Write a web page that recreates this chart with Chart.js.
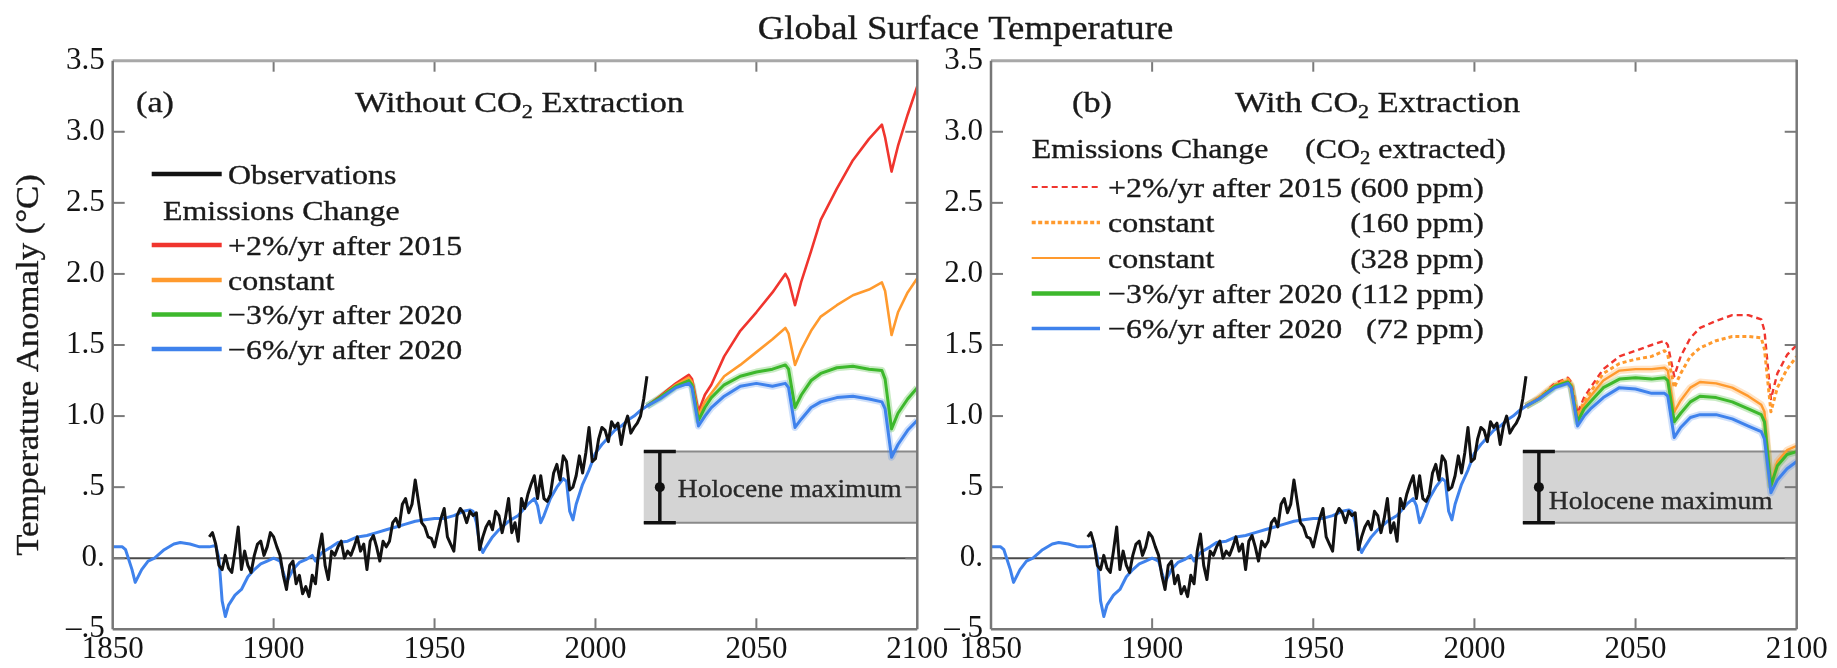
<!DOCTYPE html>
<html>
<head>
<meta charset="utf-8">
<title>Global Surface Temperature</title>
<script src="https://cdn.jsdelivr.net/npm/chart.js@4.4.0/dist/chart.umd.min.js"></script>
<style>
  html, body { margin: 0; padding: 0; background: #fff; }
  #wrap { position: relative; width: 1837px; height: 668px; overflow: hidden; }
  #wrap canvas { position: absolute; left: 0; top: 0; }
</style>
</head>
<body>
<div id="wrap">
  <canvas id="panelA" width="1837" height="668"></canvas>
  <canvas id="panelB" width="1837" height="668"></canvas>
</div>
<script>
// ----- Axes -----
const xTicks = [1850, 1900, 1950, 2000, 2050, 2100];
const yTicks = [-0.5, 0, 0.5, 1, 1.5, 2, 2.5, 3, 3.5];
const yTickLabels = ["\u2013.5", "0.", ".5", "1.0", "1.5", "2.0", "2.5", "3.0", "3.5"];

// ----- Observations (annual, from 1880) -----
const obsFirstYear = 1880;
const obsTemp = [
  0.15, 0.18, 0.10, -0.05, -0.08, 0.02, -0.07, -0.10, 0.05, 0.22,
  -0.08, 0.05, -0.05, -0.10, 0.02, 0.10, 0.12, 0.02, 0.08, 0.18,
  0.15, 0.08, 0.02, -0.12, -0.22, -0.05, -0.02, -0.18, -0.12, -0.25,
  -0.20, -0.27, -0.12, -0.18, 0.05, 0.17, -0.05, -0.15, 0.05, 0.02,
  0.08, 0.12, 0.00, 0.05, 0.02, 0.08, 0.15, 0.05, 0.10, -0.08,
  0.12, 0.16, 0.08, -0.02, 0.12, 0.08, 0.12, 0.25, 0.28, 0.22,
  0.38, 0.42, 0.32, 0.38, 0.55, 0.40, 0.25, 0.22, 0.15, 0.14,
  0.08, 0.18, 0.28, 0.35, 0.15, 0.10, 0.05, 0.30, 0.35, 0.32,
  0.25, 0.33, 0.30, 0.32, 0.06, 0.15, 0.22, 0.26, 0.20, 0.33,
  0.30, 0.18, 0.28, 0.42, 0.18, 0.25, 0.12, 0.42, 0.35, 0.45,
  0.52, 0.58, 0.42, 0.58, 0.42, 0.40, 0.45, 0.60, 0.66, 0.55,
  0.72, 0.68, 0.48, 0.50, 0.58, 0.72, 0.60, 0.74, 0.92, 0.68,
  0.70, 0.84, 0.92, 0.90, 0.82, 0.96, 0.92, 0.95, 0.80, 0.93,
  1.00, 0.88, 0.92, 0.95, 1.00, 1.12, 1.28
];

// ----- Model, historical period -----
const modelYears = [
  1850, 1853, 1854, 1856, 1857, 1859, 1861, 1863, 1866, 1869, 1871, 1874, 1877, 1880,
  1882, 1883, 1884, 1885, 1886, 1888, 1890, 1892, 1894, 1896, 1898, 1900, 1902, 1903,
  1904, 1906, 1908, 1910, 1912, 1913, 1915, 1918, 1920, 1923, 1926, 1929, 1932, 1935,
  1938, 1941, 1944, 1947, 1950, 1953, 1956, 1959, 1961, 1962, 1963, 1964, 1965, 1966,
  1968, 1970, 1973, 1976, 1979, 1981, 1982, 1983, 1984, 1986, 1988, 1990, 1991, 1992,
  1993, 1994, 1996, 1998, 2000, 2002, 2004, 2006, 2008, 2010, 2012, 2014, 2016
];
const modelTemp = [
  0.08, 0.08, 0.06, -0.08, -0.17, -0.08, -0.02, 0.00, 0.06, 0.10, 0.11, 0.10, 0.08, 0.08,
  0.09, 0.00, -0.30, -0.41, -0.33, -0.26, -0.22, -0.13, -0.08, -0.04, -0.02, 0.00, -0.02, -0.10,
  -0.17, -0.08, -0.03, -0.01, 0.02, -0.02, 0.04, 0.08, 0.11, 0.12, 0.15, 0.16, 0.18, 0.20,
  0.22, 0.24, 0.26, 0.27, 0.28, 0.28, 0.30, 0.33, 0.34, 0.33, 0.25, 0.10, 0.04, 0.08,
  0.15, 0.20, 0.26, 0.30, 0.38, 0.42, 0.37, 0.25, 0.30, 0.42, 0.50, 0.56, 0.54, 0.33,
  0.27, 0.38, 0.52, 0.62, 0.74, 0.80, 0.85, 0.90, 0.93, 0.97, 1.00, 1.04, 1.07
];

// ----- Scenarios after 2016 -----
const futureYears = [
  2016, 2020, 2025, 2029, 2030, 2032, 2034, 2036, 2040, 2045, 2050, 2055, 2059, 2060,
  2062, 2064, 2067, 2070, 2075, 2080, 2085, 2089, 2090, 2092, 2094, 2097, 2100
];
// (a) without CO2 extraction
const aRed = [
  1.07, 1.14, 1.23, 1.29, 1.26, 1.03, 1.15, 1.22, 1.42, 1.60, 1.73, 1.87, 2.00, 1.96,
  1.78, 1.95, 2.16, 2.38, 2.60, 2.80, 2.95, 3.05, 2.96, 2.72, 2.90, 3.12, 3.32
];
const aOrange = [
  1.07, 1.13, 1.22, 1.27, 1.24, 1.00, 1.10, 1.16, 1.28, 1.36, 1.45, 1.54, 1.62, 1.58,
  1.36, 1.47, 1.60, 1.70, 1.78, 1.85, 1.89, 1.94, 1.88, 1.57, 1.73, 1.87, 1.97
];
const aGreen = [
  1.07, 1.13, 1.21, 1.25, 1.22, 0.97, 1.06, 1.13, 1.22, 1.28, 1.31, 1.33, 1.36, 1.33,
  1.06, 1.15, 1.25, 1.30, 1.34, 1.35, 1.33, 1.32, 1.26, 0.91, 1.02, 1.12, 1.20
];
const aBlue = [
  1.07, 1.12, 1.20, 1.23, 1.20, 0.93, 1.00, 1.06, 1.14, 1.21, 1.23, 1.21, 1.23, 1.20,
  0.92, 0.98, 1.06, 1.10, 1.13, 1.14, 1.12, 1.10, 1.05, 0.71, 0.80, 0.90, 0.97
];
// (b) with CO2 extraction
const bRedDash = [
  1.07, 1.13, 1.23, 1.27, 1.24, 1.02, 1.13, 1.20, 1.33, 1.42, 1.46, 1.50, 1.53, 1.50,
  1.28, 1.42, 1.55, 1.62, 1.67, 1.71, 1.71, 1.68, 1.60, 1.12, 1.30, 1.43, 1.50
];
const bOrangeDot = [
  1.07, 1.13, 1.22, 1.26, 1.23, 1.00, 1.10, 1.17, 1.30, 1.37, 1.40, 1.42, 1.46, 1.43,
  1.20, 1.30, 1.42, 1.48, 1.53, 1.56, 1.56, 1.55, 1.47, 1.03, 1.20, 1.33, 1.42
];
const bOrange = [
  1.07, 1.13, 1.22, 1.25, 1.22, 0.98, 1.08, 1.14, 1.25, 1.32, 1.33, 1.33, 1.34, 1.32,
  1.03, 1.11, 1.20, 1.24, 1.23, 1.20, 1.14, 1.08, 1.03, 0.52, 0.68, 0.76, 0.79
];
const bGreen = [
  1.07, 1.12, 1.21, 1.24, 1.21, 0.96, 1.05, 1.10, 1.20, 1.26, 1.27, 1.26, 1.27, 1.25,
  0.96, 1.02, 1.10, 1.14, 1.13, 1.10, 1.05, 1.01, 0.96, 0.51, 0.65, 0.73, 0.75
];
const bBlue = [
  1.07, 1.12, 1.20, 1.23, 1.20, 0.93, 1.00, 1.05, 1.13, 1.20, 1.19, 1.16, 1.16, 1.14,
  0.85, 0.92, 0.99, 1.01, 1.01, 0.98, 0.93, 0.89, 0.84, 0.46, 0.55, 0.63, 0.68
];

// Holocene maximum band and its error bar
const holoceneYears = [2015, 2100];
const holoceneBand = [0.25, 0.75];
const holoceneMark = [2020, 0.5];

// ----- Styles -----
const FONT = "'Liberation Serif', 'Times New Roman', serif";
const C = { black: "#121212", red: "#f0352e", orange: "#ff9a2e", green: "#3db82c", blue: "#3f82ec" };
const HALO = { orange: "rgba(255,154,46,0.28)", green: "rgba(61,184,44,0.28)", blue: "rgba(63,130,236,0.25)" };

function pts(years, vals) { return years.map((yr, i) => ({ x: yr, y: vals[i] })); }
const obsPoints = obsTemp.map((v, i) => ({ x: obsFirstYear + i, y: v }));
const modelPoints = pts(modelYears, modelTemp);

// text with optional subscript segments (["2"]), horizontal stretch and rotation
function drawText(ctx, segs, x, y, size, o = {}) {
  if (typeof segs === "string") segs = [segs];
  ctx.save();
  ctx.translate(x, y);
  if (o.rotate) ctx.rotate(o.rotate);
  ctx.scale(o.sx || 1, 1);
  ctx.fillStyle = o.color || "#1a1a1a";
  ctx.strokeStyle = o.color || "#1a1a1a";
  ctx.lineWidth = 0.35;
  ctx.textBaseline = "alphabetic";
  ctx.textAlign = "left";
  const fontOf = s => (Array.isArray(s) ? size * 0.65 : size) + "px " + FONT;
  const widths = segs.map(s => { ctx.font = fontOf(s); return ctx.measureText(Array.isArray(s) ? s[0] : s).width; });
  const total = widths.reduce((a, b) => a + b, 0);
  let cx = o.align === "center" ? -total / 2 : o.align === "right" ? -total : 0;
  segs.forEach((s, i) => {
    const t = Array.isArray(s) ? s[0] : s, dy = Array.isArray(s) ? size * 0.22 : 0;
    ctx.font = fontOf(s);
    ctx.fillText(t, cx, dy);
    ctx.strokeText(t, cx, dy);
    cx += widths[i];
  });
  ctx.restore();
}

function line(ctx, x1, y1, x2, y2) {
  ctx.beginPath(); ctx.moveTo(x1, y1); ctx.lineTo(x2, y2); ctx.stroke();
}

// ----- Plugin: band, zero line, frame, labels, legend -----
const decor = {
  id: "decor",
  beforeDatasetsDraw(chart, args, opts) {
    const { ctx, chartArea: a, scales: { x, y } } = chart;
    ctx.save();
    // zero line
    ctx.strokeStyle = "#4a4a4a"; ctx.lineWidth = 2.2;
    line(ctx, a.left, y.getPixelForValue(0), a.right, y.getPixelForValue(0));
    // Holocene band
    const x0 = x.getPixelForValue(holoceneYears[0]), x1 = x.getPixelForValue(holoceneYears[1]);
    const yt = y.getPixelForValue(holoceneBand[1]), yb = y.getPixelForValue(holoceneBand[0]);
    ctx.fillStyle = "#d4d4d4";
    ctx.fillRect(x0, yt, x1 - x0, yb - yt);
    ctx.strokeStyle = "#8a8a8a"; ctx.lineWidth = 2;
    line(ctx, x0, yt, x1, yt);
    line(ctx, x0, yb, x1, yb);
    // error bar
    const mx = x.getPixelForValue(holoceneMark[0]), my = y.getPixelForValue(holoceneMark[1]);
    ctx.strokeStyle = "#111"; ctx.lineWidth = 3.5;
    line(ctx, mx, yt, mx, yb);
    line(ctx, mx - 16, yt, mx + 16, yt);
    line(ctx, mx - 16, yb, mx + 16, yb);
    ctx.fillStyle = "#111";
    ctx.beginPath(); ctx.arc(mx, my, 5, 0, Math.PI * 2); ctx.fill();
    ctx.restore();
    drawText(ctx, "Holocene maximum", x.getPixelForValue(opts.holoText[0]), opts.holoText[1], 25, { sx: 1.1, color: "#2a2a2a" });
  },
  afterDraw(chart, args, opts) {
    const { ctx, chartArea: a, scales: { x, y } } = chart;
    ctx.save();
    // inward ticks
    ctx.strokeStyle = "#7a7a7a"; ctx.lineWidth = 2;
    xTicks.slice(1, -1).forEach(v => {
      const px = x.getPixelForValue(v);
      line(ctx, px, a.bottom, px, a.bottom - 11);
      line(ctx, px, a.top, px, a.top + 11);
    });
    yTicks.slice(1, -1).forEach(v => {
      const py = y.getPixelForValue(v);
      line(ctx, a.left, py, a.left + 12, py);
      line(ctx, a.right, py, a.right - 12, py);
    });
    // frame
    ctx.strokeStyle = "#a8a8a8"; ctx.lineWidth = 3;
    line(ctx, a.left, a.top, a.right, a.top);
    ctx.strokeStyle = "#777"; ctx.lineWidth = 2.5;
    line(ctx, a.left, a.top, a.left, a.bottom);
    line(ctx, a.right, a.top - 1, a.right, a.bottom);
    line(ctx, a.left, a.bottom, a.right, a.bottom);
    ctx.restore();

    // panel headings
    drawText(ctx, opts.tag[0], opts.tag[1], 111.5, 30, { sx: 1.14 });
    drawText(ctx, opts.heading[0], opts.heading[1], 111.5, 30, { sx: 1.14 });
    if (opts.title) {
      drawText(ctx, "Global Surface Temperature", 965.5, 38.5, 34, { sx: 1.08, align: "center" });
      drawText(ctx, "Temperature Anomaly (\u00B0C)", 38, 365, 31, { sx: 1.12, align: "center", rotate: -Math.PI / 2 });
    }

    // legend
    const L = opts.legend;
    L.headers.forEach(h => drawText(ctx, h[0], h[1], h[2], 28, { sx: 1.14 }));
    L.rows.forEach(r => {
      ctx.save();
      ctx.strokeStyle = r.color; ctx.lineWidth = r.width;
      ctx.setLineDash(r.dash || []);
      line(ctx, L.lineX[0], r.y, L.lineX[1], r.y);
      ctx.restore();
      drawText(ctx, r.label, L.textX, r.y + 9.5, 28, { sx: 1.14 });
      if (r.ppm) drawText(ctx, r.ppm, L.ppmX, r.y + 9.5, 28, { sx: 1.14, align: "right" });
    });
  }
};

// ----- Panels -----
function ds(data, color, width, dash) {
  return { data, borderColor: color, borderWidth: width, borderDash: dash || [], pointRadius: 0, tension: 0, fill: false, borderJoinStyle: "round" };
}

function buildPanel(canvasId, padLeft, axisWidth, padRight, datasets, decorOpts) {
  return new Chart(document.getElementById(canvasId), {
    type: "line",
    data: { datasets },
    options: {
      responsive: false,
      animation: false,
      events: [],
      layout: { padding: { left: padLeft, right: padRight, top: 60.7, bottom: 0 } },
      plugins: { legend: { display: false }, tooltip: { enabled: false }, decor: decorOpts },
      scales: {
        x: {
          type: "linear", min: 1850, max: 2100,
          afterBuildTicks: s => { s.ticks = xTicks.map(v => ({ value: v })); },
          afterFit: s => { s.height = 38.7; },
          grid: { display: false, drawTicks: false },
          border: { display: false },
          ticks: { autoSkip: false, maxRotation: 0, padding: 2, color: "#141414", font: { family: FONT, size: 31 }, callback: v => String(v) }
        },
        y: {
          type: "linear", min: -0.5, max: 3.5,
          afterBuildTicks: s => { s.ticks = yTicks.map(v => ({ value: v })); },
          afterFit: s => { s.width = axisWidth; },
          grid: { display: false, drawTicks: false },
          border: { display: false },
          ticks: { autoSkip: false, padding: 8, color: "#141414", font: { family: FONT, size: 31 }, callback: v => yTickLabels[yTicks.indexOf(v)] }
        }
      }
    },
    plugins: [decor]
  });
}

// (a) Without CO2 extraction
buildPanel("panelA", 0, 112.7, 1837 - 917.3, [
  ds(obsPoints, C.black, 3),
  ds(modelPoints, C.blue, 3),
  ds(pts(futureYears, aBlue), C.blue, 3),
  ds(pts(futureYears, aGreen), C.green, 3),
  ds(pts(futureYears, aOrange), C.orange, 2.6),
  ds(pts(futureYears, aRed), C.red, 2.6),
  ds(pts(futureYears, aGreen), HALO.green, 7),
  ds(pts(futureYears, aBlue), HALO.blue, 7)
], {
  title: true,
  tag: ["(a)", 136],
  heading: [["Without CO", ["2"], " Extraction"], 355],
  holoText: [2025.6, 497],
  legend: {
    lineX: [151.7, 221.7], textX: 228,
    headers: [["Emissions Change", 163, 220]],
    rows: [
      { label: "Observations", color: C.black, width: 4.5, y: 174 },
      { label: "+2%/yr after 2015", color: C.red, width: 4.5, y: 245 },
      { label: "constant", color: C.orange, width: 4.5, y: 280 },
      { label: "\u22123%/yr after 2020", color: C.green, width: 4.5, y: 314.5 },
      { label: "\u22126%/yr after 2020", color: C.blue, width: 4.5, y: 349 }
    ]
  }
});

// (b) With CO2 extraction
buildPanel("panelB", 930, 61, 1837 - 1796.7, [
  ds(obsPoints, C.black, 3),
  ds(modelPoints, C.blue, 3),
  ds(pts(futureYears, bBlue), C.blue, 3),
  ds(pts(futureYears, bGreen), C.green, 3),
  ds(pts(futureYears, bOrange), C.orange, 2.4),
  ds(pts(futureYears, bOrangeDot), C.orange, 3, [4, 3]),
  ds(pts(futureYears, bRedDash), C.red, 2.4, [6, 4]),
  ds(pts(futureYears, bOrange), HALO.orange, 7),
  ds(pts(futureYears, bGreen), HALO.green, 7),
  ds(pts(futureYears, bBlue), HALO.blue, 7)
], {
  title: false,
  tag: ["(b)", 1072],
  heading: [["With CO", ["2"], " Extraction"], 1235],
  holoText: [2023.1, 508.5],
  legend: {
    lineX: [1031.7, 1100], textX: 1108, ppmX: 1484,
    headers: [["Emissions Change", 1031.7, 158.3], [["(CO", ["2"], " extracted)"], 1305, 158.3]],
    rows: [
      { label: "+2%/yr after 2015", ppm: "(600 ppm)", color: C.red, width: 2.2, dash: [6, 4], y: 187 },
      { label: "constant", ppm: "(160 ppm)", color: C.orange, width: 3.5, dash: [4, 2.5], y: 222.5 },
      { label: "constant", ppm: "(328 ppm)", color: C.orange, width: 2.2, y: 258 },
      { label: "\u22123%/yr after 2020", ppm: "(112 ppm)", color: C.green, width: 4.5, y: 293.5 },
      { label: "\u22126%/yr after 2020", ppm: "(72 ppm)", color: C.blue, width: 3.5, y: 328.5 }
    ]
  }
});
</script>
</body>
</html>
